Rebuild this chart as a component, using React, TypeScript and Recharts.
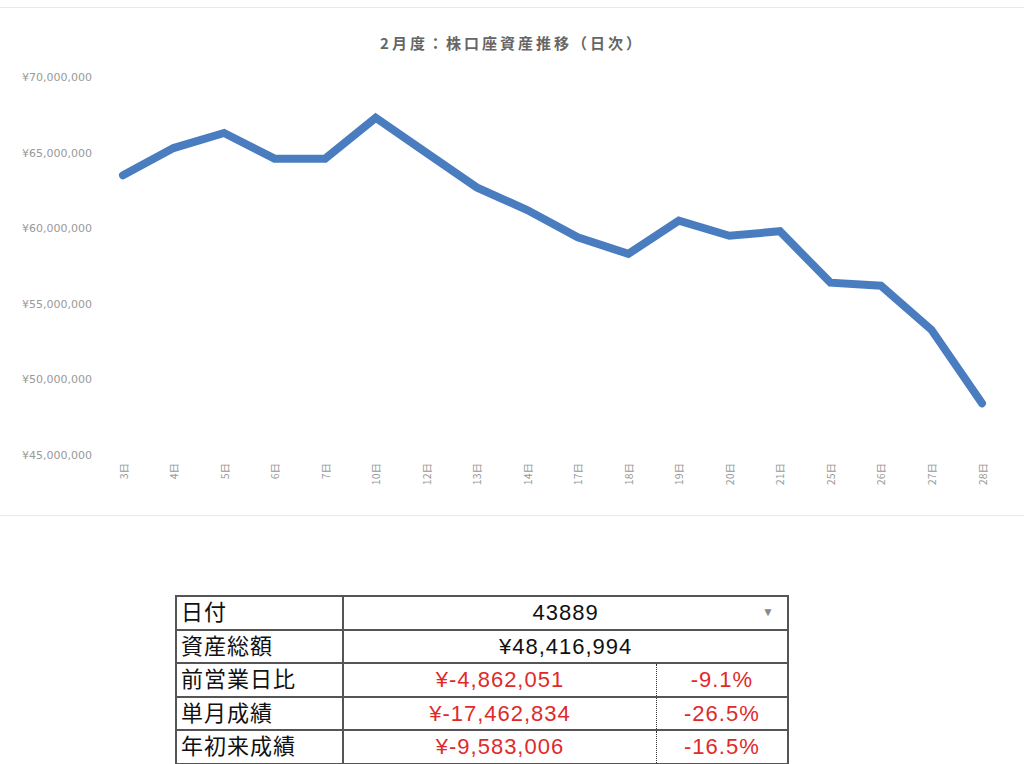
import { LineChart, Line, XAxis, YAxis } from 'recharts';

// 2月 営業日
const days = ['3日', '4日', '5日', '6日', '7日', '10日', '12日', '13日', '14日', '17日', '18日', '19日', '20日', '21日', '25日', '26日', '27日', '28日'];
// 株口座資産（円）
const assets = [63500000, 65300000, 66300000, 64600000, 64600000, 67300000, 65000000, 62700000, 61200000, 59400000, 58300000, 60500000, 59500000, 59800000, 56400000, 56200000, 53279045, 48416994];
const yTicks = [45000000, 50000000, 55000000, 60000000, 65000000, 70000000];

const summaryRows = [
  { label: '前営業日比', amount: '¥-4,862,051', rate: '-9.1%' },
  { label: '単月成績', amount: '¥-17,462,834', rate: '-26.5%' },
  { label: '年初来成績', amount: '¥-9,583,006', rate: '-16.5%' },
];

const data = days.map((day, i) => ({ day, value: assets[i] }));

const yen = (v: number) => '¥' + v.toLocaleString('en-US');

const DayTick = (props: any) => {
  const { x, y, payload } = props;
  return (
    <text
      x={x}
      y={y}
      transform={`rotate(-90, ${x}, ${y})`}
      textAnchor="end"
      dominantBaseline="central"
      fontSize={10.5}
      fill="#999"
      fontFamily="'Noto Sans CJK JP', sans-serif"
    >
      {payload.value}
    </text>
  );
};

const cell = {
  border: '2px solid #555',
  height: 31.5,
  padding: '0 4px',
  fontSize: 22,
  letterSpacing: 1,
  lineHeight: '31px',
  fontFamily: "'Liberation Sans', 'Noto Sans CJK JP', sans-serif",
};

const App = () => {
  return (
    <div style={{ position: 'absolute', top: 0, left: 0, width: 1024, height: 764, background: '#fff' }}>
      <div style={{ position: 'absolute', top: 7, left: 0, width: 1024, height: 1, background: '#eaeaea' }} />
      <div style={{ position: 'absolute', top: 515, left: 0, width: 1024, height: 1, background: '#eaeaea' }} />
      <div
        style={{
          position: 'absolute',
          top: 32,
          left: 0,
          width: 1024,
          textAlign: 'center',
          fontSize: 15,
          fontWeight: 'bold',
          letterSpacing: 3,
          color: '#666',
          fontFamily: "'Noto Sans CJK JP', sans-serif",
        }}
      >
        2月度：株口座資産推移（日次）
      </div>
      <div style={{ position: 'absolute', top: 0, left: 0 }}>
        <LineChart width={1024} height={515} data={data} margin={{ top: 77, right: 24, left: 0, bottom: 10 }}>
          <XAxis
            dataKey="day"
            interval={0}
            height={50}
            tick={<DayTick />}
            tickLine={false}
            axisLine={false}
            tickSize={0}
            tickMargin={8}
            padding={{ left: 23, right: 18 }}
          />
          <YAxis
            type="number"
            domain={[45000000, 70000000]}
            ticks={yTicks}
            width={100}
            tickFormatter={yen}
            tickLine={false}
            axisLine={false}
            tickSize={0}
            tickMargin={8}
            tick={{ fontSize: 11, fill: '#999', fontFamily: 'DejaVu Sans' }}
          />
          <Line
            type="linear"
            dataKey="value"
            stroke="#4a7dc0"
            strokeWidth={8}
            strokeLinecap="round"
            dot={false}
            activeDot={false}
            isAnimationActive={false}
          />
        </LineChart>
      </div>
      <table
        style={{
          position: 'absolute',
          left: 175,
          top: 595,
          width: 614,
          borderCollapse: 'collapse',
          border: '2px solid #555',
          color: '#111',
        }}
      >
        <colgroup>
          <col style={{ width: 168 }} />
          <col style={{ width: 314 }} />
          <col style={{ width: 132 }} />
        </colgroup>
        <tbody>
          <tr>
            <td style={cell}>日付</td>
            <td colSpan={2} style={{ ...cell, textAlign: 'center', position: 'relative' }}>
              43889
              <span style={{ position: 'absolute', right: 12, top: 0, fontSize: 12, color: '#888' }}>▼</span>
            </td>
          </tr>
          <tr>
            <td style={cell}>資産総額</td>
            <td colSpan={2} style={{ ...cell, textAlign: 'center' }}>¥48,416,994</td>
          </tr>
          {summaryRows.map((r) => (
            <tr key={r.label}>
              <td style={cell}>{r.label}</td>
              <td style={{ ...cell, textAlign: 'center', color: '#e02a2a', borderRight: '1px dotted #333' }}>{r.amount}</td>
              <td style={{ ...cell, textAlign: 'center', color: '#e02a2a', borderLeft: '1px dotted #333' }}>{r.rate}</td>
            </tr>
          ))}
        </tbody>
      </table>
    </div>
  );
};

export default App;
